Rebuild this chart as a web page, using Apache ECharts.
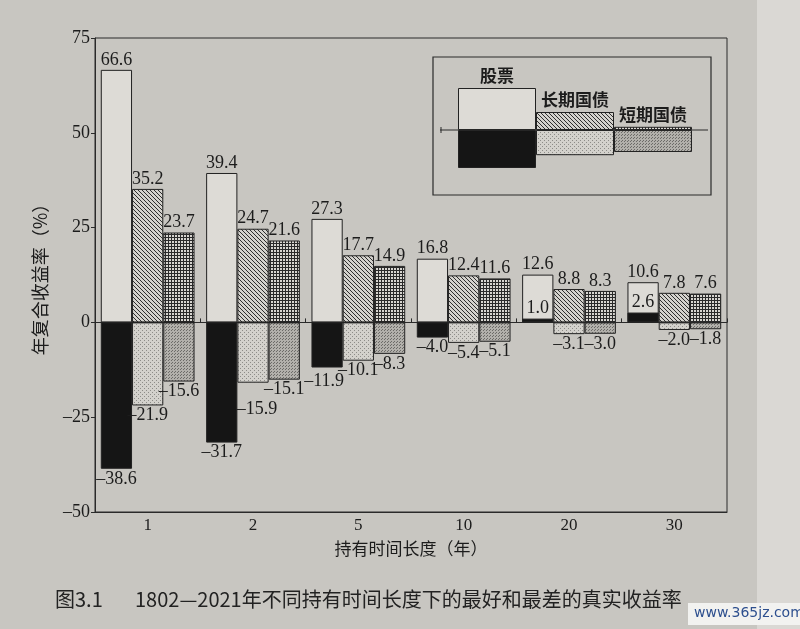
<!DOCTYPE html>
<html>
<head>
<meta charset="utf-8">
<script src="https://cdn.jsdelivr.net/npm/echarts@6/dist/echarts.min.js"></script>
<style>
html, body { margin: 0; padding: 0; background: #c8c6c1; }
#chart { width: 800px; height: 629px; }
</style>
</head>
<body>
<div id="chart"></div>
<script>
// holding periods (years) and best / worst real returns, %
const periods = ['1', '2', '5', '10', '20', '30'];
const stockBest = [66.6, 39.4, 27.3, 16.8, 12.6, 10.6];
const stockWorst = [-38.6, -31.7, -11.9, -4.0, 1.0, 2.6];
const longBest = [35.2, 24.7, 17.7, 12.4, 8.8, 7.8];
const longWorst = [-21.9, -15.9, -10.1, -5.4, -3.1, -2.0];
const shortBest = [23.7, 21.6, 14.9, 11.6, 8.3, 7.6];
const shortWorst = [-15.6, -15.1, -8.3, -5.1, -3.0, -1.8];

// inset key, a tiny bar chart of its own (sizes only illustrative)
const keyNames = ['股票', '长期国债', '短期国债'];
const keyUp = [10.5, 4.5, 0.8];
const keyDown = [-9.5, -6.3, -5.5];

const SERIF = 'Liberation Serif';
const CJK = 'Noto Sans CJK SC';
const INK = '#1c1c1c';

// a few labels sit staggered in the book so they do not collide
const labelNudge = {
    '长期国债最差': { 1: [4, 17] },
    '股票最差': { 2: [-3, 4] }
};

function pattern(w, h, draw) {
    const c = document.createElement('canvas');
    c.width = w; c.height = h;
    draw(c.getContext('2d'), w, h);
    return { image: c, repeat: 'repeat' };
}

const plainFill = '#dddbd6';
const blackFill = '#151515';
const hatchFill = pattern(4, 4, (g, w, h) => {
    g.fillStyle = '#d4d2cd'; g.fillRect(0, 0, w, h);
    g.fillStyle = '#2e2e2e';
    for (let i = 0; i < w; i++) g.fillRect(i, i, 1, 1);
});
const gridFill = pattern(3, 3, (g, w, h) => {
    g.fillStyle = '#2a2a2a'; g.fillRect(0, 0, w, h);
    g.fillStyle = '#d8d6d1'; g.fillRect(1, 1, 2, 2);
});
const lightDots = pattern(4, 4, (g, w, h) => {
    g.fillStyle = '#d3d1cc'; g.fillRect(0, 0, w, h);
    g.fillStyle = '#8d8c88';
    g.fillRect(0, 0, 1, 1); g.fillRect(2, 2, 1, 1);
});
const greyDots = pattern(3, 3, (g, w, h) => {
    g.fillStyle = '#b2b0ab'; g.fillRect(0, 0, w, h);
    g.fillStyle = '#6c6b68';
    g.fillRect(0, 0, 1, 1); g.fillRect(1, 2, 1, 1);
});

function fmt(v) {
    return (v < 0 ? '\u2013' : '') + Math.abs(v).toFixed(1);
}

function barSeries(name, values, fill, axis) {
    const nudge = labelNudge[name] || {};
    return {
        name: name,
        type: 'bar',
        xAxisIndex: axis,
        yAxisIndex: 0,
        barGap: '0%',
        barCategoryGap: '11%',
        z: axis === 1 ? 3 : 2,
        itemStyle: { color: fill, borderColor: '#222', borderWidth: 1 },
        label: {
            show: true,
            formatter: p => fmt(p.value),
            fontFamily: SERIF, fontSize: 18, color: INK, distance: 1
        },
        data: values.map((v, i) => {
            const lab = { position: v < 0 ? 'bottom' : 'top' };
            if (nudge[i]) lab.offset = nudge[i];
            return { value: v, label: lab };
        })
    };
}

function keySeries(values, fills, showNames) {
    return {
        type: 'bar',
        xAxisIndex: 2,
        yAxisIndex: 1,
        barGap: '-100%',
        barCategoryGap: '0%',
        itemStyle: { borderColor: '#222', borderWidth: 1 },
        label: showNames ? {
            show: true, position: 'top', distance: 4,
            formatter: p => keyNames[p.dataIndex],
            fontFamily: CJK, fontSize: 17, fontWeight: 'bold', color: INK
        } : { show: false },
        data: values.map((v, i) => ({ value: v, itemStyle: { color: fills[i] } }))
    };
}

const chart = echarts.init(document.getElementById('chart'));

const captionStyle = { fontFamily: CJK, fontSize: 20, fontWeight: 'normal', color: '#222' };

chart.setOption({
    backgroundColor: '#c8c6c1',
    animation: false,
    title: [
        { text: '图3.1', left: 50, top: 584, textStyle: captionStyle },
        { text: '1802—2021年不同持有时间长度下的最好和最差的真实收益率', left: 130, top: 584, textStyle: captionStyle }
    ],
    grid: [
        { left: 95, right: 73, top: 38, bottom: 117, show: true, borderColor: '#2a2a2a', borderWidth: 1 },
        { left: 458, width: 234, top: 82, height: 96 }
    ],
    xAxis: [
        {
            type: 'category', gridIndex: 0, data: periods, position: 'bottom',
            name: '持有时间长度（年）', nameLocation: 'middle', nameGap: 28,
            nameTextStyle: { fontFamily: CJK, fontSize: 17, color: INK },
            axisLine: { onZero: false, lineStyle: { color: '#2a2a2a' } },
            axisTick: { alignWithLabel: true, inside: true, length: 5, lineStyle: { color: '#2a2a2a' } },
            axisLabel: { fontFamily: SERIF, fontSize: 17, color: INK, margin: 5 }
        },
        {
            type: 'category', gridIndex: 0, data: periods, position: 'top',
            axisLine: { onZero: true, lineStyle: { color: '#2a2a2a' } },
            axisTick: { show: true, length: 4, lineStyle: { color: '#2a2a2a' } },
            axisLabel: { show: false }
        },
        { type: 'category', gridIndex: 1, data: keyNames, show: false }
    ],
    yAxis: [
        {
            type: 'value', gridIndex: 0, min: -50, max: 75, interval: 25,
            name: '年复合收益率（%）', nameLocation: 'middle', nameGap: 46, nameRotate: 90,
            nameTextStyle: { fontFamily: CJK, fontSize: 18, color: INK },
            axisLine: { show: true, lineStyle: { color: '#2a2a2a' } },
            axisTick: { show: true, length: 4, lineStyle: { color: '#2a2a2a' } },
            splitLine: { show: false },
            axisLabel: {
                fontFamily: SERIF, fontSize: 18, color: INK, margin: 5,
                formatter: v => (v < 0 ? '\u2013' : '') + Math.abs(v)
            }
        },
        { type: 'value', gridIndex: 1, min: -12, max: 12, show: false }
    ],
    series: [
        barSeries('股票最好', stockBest, plainFill, 0),
        barSeries('长期国债最好', longBest, hatchFill, 0),
        barSeries('短期国债最好', shortBest, gridFill, 0),
        barSeries('股票最差', stockWorst, blackFill, 1),
        barSeries('长期国债最差', longWorst, lightDots, 1),
        barSeries('短期国债最差', shortWorst, greyDots, 1),
        keySeries(keyUp, [plainFill, hatchFill, gridFill], true),
        keySeries(keyDown, [blackFill, lightDots, greyDots], false)
    ],
    graphic: [
        { type: 'rect', shape: { x: 757, y: 0, width: 43, height: 629 }, style: { fill: '#dad8d4' }, z: -10 },
        { type: 'rect', shape: { x: 433, y: 57, width: 278, height: 138 }, style: { fill: 'none', stroke: '#2a2a2a', lineWidth: 1.2 }, z: 5 },
        { type: 'line', shape: { x1: 440, y1: 130, x2: 708, y2: 130 }, style: { stroke: '#2a2a2a', lineWidth: 1 }, z: 5 },
        { type: 'line', shape: { x1: 441, y1: 127, x2: 441, y2: 133 }, style: { stroke: '#2a2a2a', lineWidth: 1 }, z: 5 },
        { type: 'rect', shape: { x: 688, y: 603, width: 112, height: 22 }, style: { fill: '#f2f2f0' }, z: 5 },
        {
            type: 'text', x: 694, y: 606, z: 6,
            style: { text: 'www.365jz.com', fontFamily: 'DejaVu Sans', fontSize: 14, fill: '#2d4f8e' }
        }
    ]
});
</script>
</body>
</html>
